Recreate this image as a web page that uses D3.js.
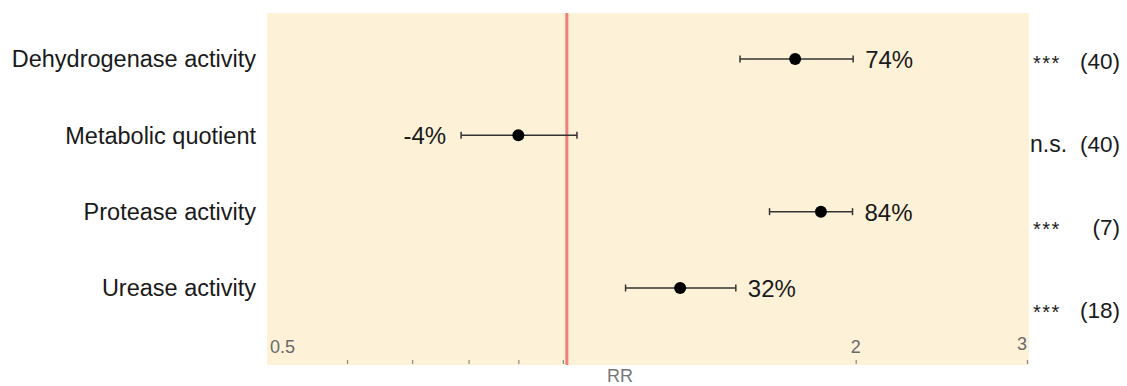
<!DOCTYPE html>
<html>
<head>
<meta charset="utf-8">
<script src="https://cdn.jsdelivr.net/npm/d3@7"></script>
<style>
  html, body { margin: 0; padding: 0; background: #ffffff; }
  svg { display: block; font-family: "Liberation Sans", Arial, Helvetica, sans-serif; }
</style>
</head>
<body>
<svg id="chart" width="1127" height="386"></svg>
<script>
// ---- data ----
const categories = ["Dehydrogenase activity", "Metabolic quotient", "Protease activity", "Urease activity"];
const rr      = [1.733, 0.900, 1.842, 1.320];
const ciLow   = [1.521, 0.786, 1.631, 1.160];
const ciHigh  = [1.988, 1.034, 1.985, 1.506];
const pctLabels = ["74%", "-4%", "84%", "32%"];
const sigLabels = ["***", "n.s.", "***", "***"];
const nLabels   = ["(40)", "(40)", "(7)", "(18)"];
const tickValues = [0.6, 0.7, 0.8, 0.9, 1, 2, 3];
const tickLabelValues = [0.5, 2, 3];
const tickLabelText = ["0.5", "2", "3"];
const refValue = 1;
const xDomain = [0.5, 3];
const axisTitle = "RR";

// ---- layout ----
const svg = d3.select("#chart");
const plot = { left: 267, right: 1029, top: 13, bottom: 365 };

const x = d3.scaleLog().domain(xDomain).range([270, 1027]);
const y = d3.scalePoint().domain(categories).range([59, 288]);
const yAnn = d3.scalePoint().domain(categories).range([61, 310]);

// background
svg.append("rect")
  .attr("x", plot.left).attr("y", plot.top)
  .attr("width", plot.right - plot.left).attr("height", plot.bottom - plot.top)
  .attr("fill", "#fdf2d8");

// tick marks via d3 axis
const axis = d3.axisBottom(x).tickValues(tickValues).tickSize(4).tickFormat("");
const gAxis = svg.append("g").attr("transform", `translate(0,${plot.bottom - 5})`).call(axis);
gAxis.select(".domain").remove();
gAxis.selectAll(".tick line").attr("stroke", "#888").attr("stroke-width", 1.2);

// tick labels
svg.append("g").selectAll("text")
  .data(tickLabelValues)
  .join("text")
  .attr("x", d => x(d))
  .attr("y", (d, i) => i === tickLabelValues.length - 1 ? 350 : 353)
  .attr("text-anchor", (d, i) => i === 0 ? "start" : (i === tickLabelValues.length - 1 ? "end" : "middle"))
  .attr("font-size", 18)
  .attr("fill", "#6a6a6a")
  .text((d, i) => tickLabelText[i]);

// axis title
svg.append("text")
  .attr("x", 620).attr("y", 382)
  .attr("text-anchor", "middle")
  .attr("font-size", 18)
  .attr("fill", "#777")
  .text(axisTitle);

// reference line
svg.append("line")
  .attr("x1", x(refValue) + 4).attr("x2", x(refValue) + 4)
  .attr("y1", plot.top).attr("y2", plot.bottom)
  .attr("stroke", "#f08078").attr("stroke-width", 3);

// category labels
svg.append("g").selectAll("text")
  .data(categories)
  .join("text")
  .attr("x", 256)
  .attr("y", d => y(d))
  .attr("dy", "0.35em")
  .attr("text-anchor", "end")
  .attr("font-size", 23.5)
  .attr("fill", "#1a1a1a")
  .text(d => d);

const rows = categories.map((c, i) => ({ c, v: rr[i], lo: ciLow[i], hi: ciHigh[i], pct: pctLabels[i], sig: sigLabels[i], n: nLabels[i] }));

const g = svg.append("g");
// error bars
g.selectAll("line.ci")
  .data(rows).join("line").attr("class", "ci")
  .attr("x1", d => x(d.lo)).attr("x2", d => x(d.hi))
  .attr("y1", d => y(d.c)).attr("y2", d => y(d.c))
  .attr("stroke", "#333").attr("stroke-width", 1.5);
g.selectAll("line.capL")
  .data(rows).join("line").attr("class", "capL")
  .attr("x1", d => x(d.lo)).attr("x2", d => x(d.lo))
  .attr("y1", d => y(d.c) - 3.5).attr("y2", d => y(d.c) + 3.5)
  .attr("stroke", "#333").attr("stroke-width", 1.5);
g.selectAll("line.capR")
  .data(rows).join("line").attr("class", "capR")
  .attr("x1", d => x(d.hi)).attr("x2", d => x(d.hi))
  .attr("y1", d => y(d.c) - 3.5).attr("y2", d => y(d.c) + 3.5)
  .attr("stroke", "#333").attr("stroke-width", 1.5);
// points
g.selectAll("circle")
  .data(rows).join("circle")
  .attr("cx", d => x(d.v)).attr("cy", d => y(d.c))
  .attr("r", 6).attr("fill", "#000");

// percentage labels
g.selectAll("text.pct")
  .data(rows).join("text").attr("class", "pct")
  .attr("x", d => d.v >= refValue ? x(d.hi) + 12 : x(d.lo) - 15)
  .attr("y", d => y(d.c) + (d.v >= refValue ? 1 : 0))
  .attr("dy", "0.35em")
  .attr("text-anchor", d => d.v >= refValue ? "start" : "end")
  .attr("font-size", 24)
  .attr("fill", "#1a1a1a")
  .text(d => d.pct);

// significance and n
g.selectAll("text.sig")
  .data(rows).join("text").attr("class", "sig")
  .attr("x", d => d.sig === "n.s." ? 1030 : 1033)
  .attr("y", d => yAnn(d.c))
  .attr("dy", d => d.sig === "n.s." ? "0.35em" : "0.45em")
  .attr("font-size", d => d.sig === "n.s." ? 23 : 20)
  .attr("letter-spacing", d => d.sig === "n.s." ? 0 : 1.5)
  .attr("fill", "#1a1a1a")
  .text(d => d.sig);

g.selectAll("text.n")
  .data(rows).join("text").attr("class", "n")
  .attr("x", 1120)
  .attr("y", d => yAnn(d.c))
  .attr("dy", "0.35em")
  .attr("text-anchor", "end")
  .attr("font-size", 22.5)
  .attr("fill", "#1a1a1a")
  .text(d => d.n);
</script>
</body>
</html>
